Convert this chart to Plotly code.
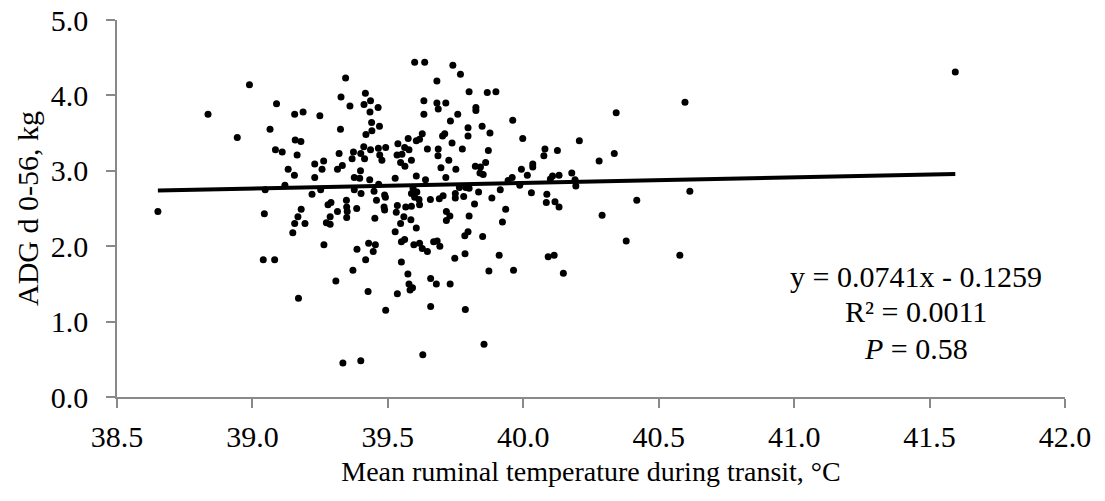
import plotly.graph_objects as go

# Mean ruminal temperature during transit (°C)
temp_c = [
    38.989, 39.089, 38.836, 39.156, 39.065, 38.944, 39.158, 39.085, 39.110, 39.165,
    39.132, 39.155, 39.120, 39.047, 38.651, 39.044, 39.180, 39.168, 39.156, 39.149,
    39.040, 39.082, 39.170,
    39.599, 39.636, 39.344, 39.417, 39.327, 39.436, 39.360, 39.412, 39.464, 39.434,
    39.187, 39.249, 39.440, 39.469, 39.441, 39.419, 39.325, 39.179, 39.575, 39.605,
    39.537, 39.562, 39.578, 39.320, 39.373, 39.411, 39.436, 39.465, 39.492, 39.400,
    39.368, 39.414, 39.470, 39.478, 39.534, 39.552, 39.587, 39.547, 39.563, 39.263,
    39.230, 39.257, 39.314, 39.332, 39.399, 39.230, 39.376, 39.396, 39.433, 39.527,
    39.605, 39.466, 39.376, 39.449, 39.220, 39.252, 39.401, 39.488, 39.491, 39.347,
    39.458, 39.587, 39.599, 39.279, 39.290, 39.348, 39.350, 39.314, 39.385, 39.486,
    39.535, 39.566, 39.587, 39.531, 39.559, 39.287, 39.452,
    39.194, 39.348, 39.273, 39.287, 39.488, 39.547, 39.585, 39.605, 39.527, 39.550,
    39.562, 39.596, 39.627, 39.264, 39.386, 39.429, 39.454, 39.446, 39.418, 39.550,
    39.371, 39.574, 39.308, 39.578, 39.591, 39.582, 39.427, 39.535, 39.492, 39.334,
    39.400,
    39.740, 39.768, 39.681, 39.800, 39.867, 39.899, 39.633, 39.681, 39.714, 39.686,
    39.633, 39.825, 39.825, 39.758, 39.731, 39.961, 39.796, 39.796, 39.848, 39.877,
    39.998, 39.627, 39.617, 39.702, 39.710, 39.737, 39.646, 39.686, 39.685, 39.775,
    39.871, 39.725, 39.696, 39.751, 39.823, 39.842, 39.861, 39.840, 39.852, 39.993,
    40.035, 40.035, 40.015, 39.639, 39.714, 39.959, 39.944, 39.987, 39.593, 39.607,
    39.615, 39.657, 39.690, 39.704, 39.749, 39.749, 39.780, 39.764, 39.788, 39.800,
    39.835, 39.884, 39.915, 40.030, 39.820, 39.935, 39.716, 39.729, 39.800, 39.617,
    39.716, 39.923, 39.796, 39.784, 39.850, 39.617, 39.646, 39.669, 39.682, 39.692,
    39.747, 39.785, 39.911, 39.873, 39.964, 39.658, 39.679, 39.730, 39.658, 39.786,
    39.855, 39.629,
    40.343, 40.207, 40.080, 40.076, 40.126, 40.280, 40.336, 40.179, 40.132, 40.108,
    40.100, 40.191, 40.194, 40.087, 40.085, 40.117, 40.132, 40.419, 40.291,
    40.380, 40.092, 40.114, 40.148,
    40.597, 40.615, 40.578,
    41.595,
]

# ADG d 0-56 (kg)
adg_kg = [
    4.14, 3.89, 3.75, 3.75, 3.55, 3.44, 3.41, 3.28, 3.25, 3.21,
    3.02, 2.94, 2.81, 2.75, 2.46, 2.43, 2.49, 2.39, 2.30, 2.18,
    1.82, 1.82, 1.31,
    4.44, 4.44, 4.23, 4.03, 3.98, 3.93, 3.86, 3.88, 3.84, 3.78,
    3.78, 3.73, 3.64, 3.59, 3.53, 3.48, 3.55, 3.39, 3.43, 3.40,
    3.36, 3.31, 3.28, 3.23, 3.25, 3.32, 3.28, 3.30, 3.31, 3.23,
    3.16, 3.16, 3.21, 3.14, 3.21, 3.22, 3.14, 3.11, 3.06, 3.13,
    3.09, 3.02, 3.02, 3.07, 3.00, 2.91, 2.91, 2.90, 2.88, 2.90,
    2.93, 2.82, 2.75, 2.73, 2.69, 2.75, 2.70, 2.68, 2.65, 2.61,
    2.61, 2.70, 2.65, 2.55, 2.58, 2.52, 2.46, 2.46, 2.50, 2.52,
    2.54, 2.52, 2.53, 2.45, 2.39, 2.39, 2.37,
    2.30, 2.38, 2.31, 2.29, 2.48, 2.30, 2.35, 2.24, 2.19, 2.06,
    2.09, 2.02, 1.97, 2.02, 1.96, 2.04, 2.02, 1.93, 1.82, 1.79,
    1.68, 1.63, 1.54, 1.50, 1.45, 1.42, 1.40, 1.37, 1.15, 0.45,
    0.48,
    4.40, 4.28, 4.19, 4.05, 4.04, 4.05, 3.93, 3.90, 3.90, 3.82,
    3.75, 3.84, 3.80, 3.75, 3.66, 3.67, 3.57, 3.46, 3.59, 3.50,
    3.43, 3.49, 3.42, 3.46, 3.49, 3.37, 3.29, 3.29, 3.20, 3.29,
    3.27, 3.14, 3.04, 3.02, 3.06, 3.05, 3.11, 2.97, 2.95, 3.02,
    3.09, 3.05, 2.94, 2.88, 2.91, 2.91, 2.87, 2.81, 2.77, 2.72,
    2.62, 2.62, 2.63, 2.67, 2.70, 2.64, 2.66, 2.78, 2.78, 2.77,
    2.72, 2.64, 2.75, 2.71, 2.56, 2.49, 2.46, 2.40, 2.40, 2.55,
    2.34, 2.32, 2.19, 2.14, 2.13, 2.04, 1.93, 2.06, 2.07, 2.00,
    1.84, 1.90, 1.88, 1.67, 1.68, 1.57, 1.50, 1.50, 1.20, 1.16,
    0.70, 0.56,
    3.77, 3.40, 3.29, 3.20, 3.27, 3.13, 3.23, 2.97, 2.94, 2.93,
    2.89, 2.88, 2.80, 2.69, 2.58, 2.59, 2.52, 2.61, 2.41,
    2.07, 1.86, 1.88, 1.64,
    3.91, 2.73, 1.88,
    4.31,
]

# Linear trend reported on the chart
slope = 0.0741
intercept = -0.1259

x_ticks = [38.5, 39.0, 39.5, 40.0, 40.5, 41.0, 41.5, 42.0]
y_ticks = [0.0, 1.0, 2.0, 3.0, 4.0, 5.0]

stats_lines = ["y = 0.0741x - 0.1259", "R² = 0.0011", "<i>P</i> = 0.58"]
stats_y = [1.60, 1.13, 0.64]

FONT = "Liberation Serif"
AXIS_COLOR = "#898989"

x_min, x_max = min(temp_c), max(temp_c)
trend_x = [x_min, x_max]
trend_y = [slope * v + intercept for v in trend_x]

fig = go.Figure()
fig.add_trace(go.Scatter(
    x=temp_c, y=adg_kg, mode="markers",
    marker=dict(color="black", size=7, line=dict(width=0)),
    showlegend=False, hoverinfo="x+y",
))
fig.add_trace(go.Scatter(
    x=trend_x, y=trend_y, mode="lines",
    line=dict(color="black", width=4),
    showlegend=False, hoverinfo="skip",
))

for txt, yy in zip(stats_lines, stats_y):
    fig.add_annotation(
        x=41.45, y=yy, xref="x", yref="y", text=txt, showarrow=False,
        xanchor="center", yanchor="middle",
        font=dict(family=FONT, size=30, color="black"),
    )

fig.update_layout(
    width=1105, height=501,
    margin=dict(l=117, r=40, t=20, b=104),
    paper_bgcolor="white", plot_bgcolor="white",
    font=dict(family=FONT, size=28, color="black"),
)
fig.update_xaxes(
    range=[38.5, 42.0], tickvals=x_ticks, ticktext=[f"{v:.1f}" for v in x_ticks],
    automargin=False,
    showgrid=False, zeroline=False, showline=True, linecolor=AXIS_COLOR, linewidth=1.5,
    ticks="outside", ticklen=9, tickcolor=AXIS_COLOR, tickwidth=1.5,
    ticklabelstandoff=3,
    title=dict(text="Mean ruminal temperature during transit, °C", standoff=10,
               font=dict(family=FONT, size=28, color="black")),
    tickfont=dict(family=FONT, size=30, color="black"),
)
fig.update_yaxes(
    range=[0, 5.0], tickvals=y_ticks, ticktext=[f"{v:.1f}" for v in y_ticks],
    automargin=False,
    showgrid=False, zeroline=False, showline=True, linecolor=AXIS_COLOR, linewidth=1.5,
    ticks="outside", ticklen=9, tickcolor=AXIS_COLOR, tickwidth=1.5,
    ticklabelstandoff=12,
    title=dict(text="ADG d 0-56, kg", standoff=3,
               font=dict(family=FONT, size=30, color="black")),
    tickfont=dict(family=FONT, size=30, color="black"),
)

fig.write_html("out.html")
